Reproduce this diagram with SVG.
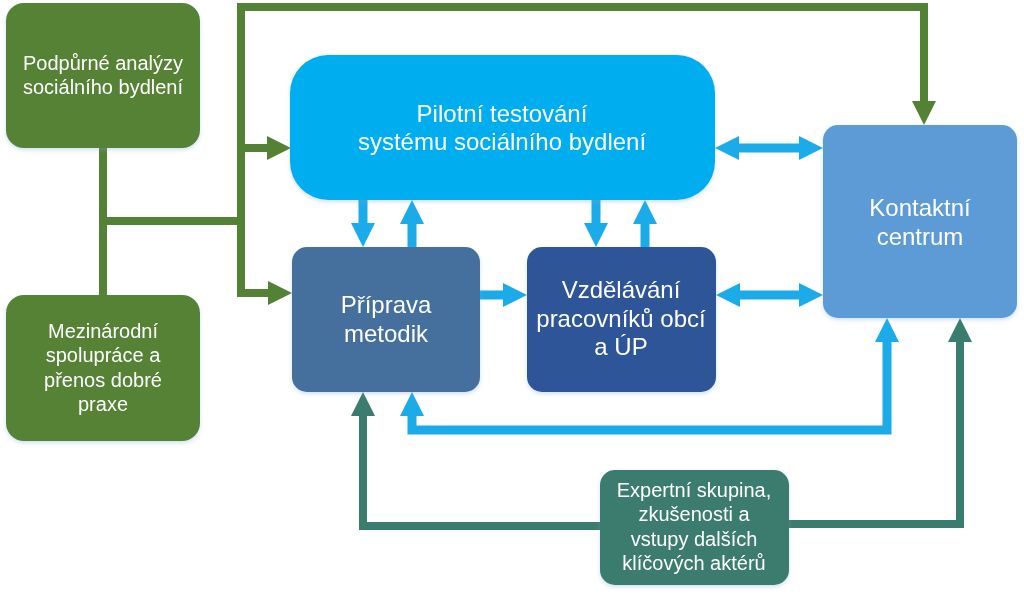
<svg xmlns="http://www.w3.org/2000/svg" width="1024" height="594" viewBox="0 0 1024 594">
<defs>
<style>
text{font-family:"Liberation Sans",Arial,sans-serif;fill:#fff;text-anchor:middle}
.t20{font-size:20px}
.t24{font-size:24px}
.g{fill:none;stroke:#548235;stroke-width:8;stroke-linejoin:miter}
.b{fill:none;stroke:#1AABE8;stroke-width:9;stroke-linejoin:miter}
.tl{fill:none;stroke:#3A7C6E;stroke-width:8;stroke-linejoin:miter}
.box{filter:url(#sh)}
</style>
<filter id="sh" x="-10%" y="-10%" width="120%" height="125%">
<feDropShadow dx="0" dy="2" stdDeviation="2" flood-color="#7aa6d6" flood-opacity="0.35"/>
</filter>
<marker id="ag" markerUnits="userSpaceOnUse" markerWidth="24" markerHeight="24" viewBox="0 0 24 24" refX="0" refY="12" orient="auto-start-reverse"><path d="M0,0 L24,12 L0,24 z" fill="#548235"/></marker>
<marker id="ab" markerUnits="userSpaceOnUse" markerWidth="24" markerHeight="24" viewBox="0 0 24 24" refX="0" refY="12" orient="auto-start-reverse"><path d="M0,0 L24,12 L0,24 z" fill="#1AABE8"/></marker>
<marker id="at" markerUnits="userSpaceOnUse" markerWidth="24" markerHeight="24" viewBox="0 0 24 24" refX="0" refY="12" orient="auto-start-reverse"><path d="M0,0 L24,12 L0,24 z" fill="#3A7C6E"/></marker>
</defs>
<rect width="1024" height="594" fill="#fff"/>
<g id="connectors">
<path class="g" d="M103,148 V295"/>
<path class="g" d="M103,221 H241"/>
<path class="g" d="M241,297 V7 H924 V101" marker-end="url(#ag)"/>
<path class="g" d="M241,148 H267" marker-end="url(#ag)"/>
<path class="g" d="M241,293 H268" marker-end="url(#ag)"/>
<path class="b" d="M363,200 V223" marker-end="url(#ab)"/>
<path class="b" d="M412,247 V224" marker-end="url(#ab)"/>
<path class="b" d="M596,200 V223" marker-end="url(#ab)"/>
<path class="b" d="M645,247 V224" marker-end="url(#ab)"/>
<path class="b" d="M480,295 H503" marker-end="url(#ab)"/>
<path class="b" d="M739,148 H799" marker-start="url(#ab)" marker-end="url(#ab)"/>
<path class="b" d="M740,295 H799" marker-start="url(#ab)" marker-end="url(#ab)"/>
<path class="b" d="M412,416 V430 H887 V342" marker-start="url(#ab)" marker-end="url(#ab)"/>
<path class="tl" d="M600,526 H363 V416" marker-end="url(#at)"/>
<path class="tl" d="M789,524 H960 V342" marker-end="url(#at)"/>
</g>
<g id="podpurne" class="box">
<rect x="6" y="3" width="194" height="145" rx="18" fill="#548235"/>
<text class="t20" x="103" y="70">Podpůrné analýzy</text>
<text class="t20" x="103" y="94">sociálního bydlení</text>
</g>
<g id="mezinarodni" class="box">
<rect x="6" y="295" width="194" height="146" rx="18" fill="#548235"/>
<text class="t20" x="103" y="338">Mezinárodní</text>
<text class="t20" x="103" y="362">spolupráce a</text>
<text class="t20" x="103" y="387">přenos dobré</text>
<text class="t20" x="103" y="411">praxe</text>
</g>
<g id="pilotni" class="box">
<rect x="290" y="55" width="425" height="145" rx="38" fill="#00AEEF"/>
<text class="t24" x="502" y="122">Pilotní testování</text>
<text class="t24" x="502" y="150">systému sociálního bydlení</text>
</g>
<g id="priprava" class="box">
<rect x="292" y="247" width="188" height="145" rx="15" fill="#446F9E"/>
<text class="t24" x="386" y="313">Příprava</text>
<text class="t24" x="386" y="342">metodik</text>
</g>
<g id="vzdelavani" class="box">
<rect x="527" y="247" width="189" height="145" rx="15" fill="#2F5597"/>
<text class="t24" x="621" y="298">Vzdělávání</text>
<text class="t24" x="621" y="327">pracovníků obcí</text>
<text class="t24" x="621" y="355">a ÚP</text>
</g>
<g id="kontaktni" class="box">
<rect x="823" y="125" width="194" height="193" rx="15" fill="#5B9BD5"/>
<text class="t24" x="920" y="216">Kontaktní</text>
<text class="t24" x="920" y="245">centrum</text>
</g>
<g id="expertni" class="box">
<rect x="600" y="470" width="189" height="115" rx="15" fill="#3A7C6E"/>
<text class="t20" x="694" y="497">Expertní skupina,</text>
<text class="t20" x="694" y="521">zkušenosti a</text>
<text class="t20" x="694" y="546">vstupy dalších</text>
<text class="t20" x="694" y="570">klíčových aktérů</text>
</g>
</svg>
